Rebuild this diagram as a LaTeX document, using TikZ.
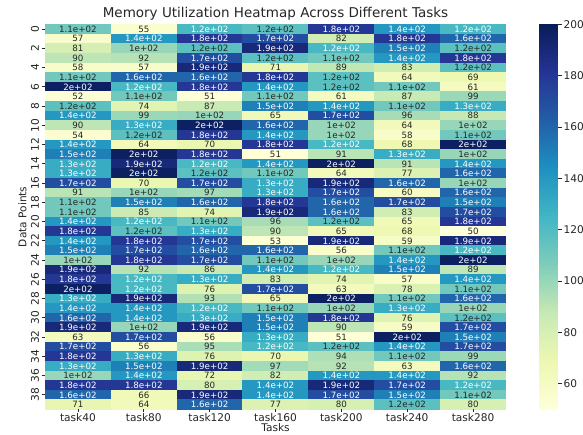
\documentclass[tikz,border=0pt]{standalone}
\usepackage{fontspec}
\setmainfont{DejaVu Sans}
\definecolor{yg0}{HTML}{FFFFD9}
\definecolor{yg1}{HTML}{EDF8B1}
\definecolor{yg2}{HTML}{C7E9B4}
\definecolor{yg3}{HTML}{7FCDBB}
\definecolor{yg4}{HTML}{41B6C4}
\definecolor{yg5}{HTML}{1D91C0}
\definecolor{yg6}{HTML}{225EA8}
\definecolor{yg7}{HTML}{253494}
\definecolor{yg8}{HTML}{081D58}
\definecolor{txtdark}{HTML}{262626}
\newcommand\hmcolor[1]{%
  \pgfmathsetmacro\hmt{max(0,min(7.9999,((#1)-50)/150*8))}%
  \pgfmathtruncatemacro\hmseg{floor(\hmt)}%
  \pgfmathtruncatemacro\hmsegb{\hmseg+1}%
  \pgfmathtruncatemacro\hmfr{round((\hmt-\hmseg)*100)}%
}
\tikzset{
  annot/.style={font=\fontsize{8.7}{9}\selectfont, inner sep=0pt},
  ticklab/.style={font=\fontsize{10.6}{12}\selectfont, text=txtdark, inner sep=0pt},
  axlab/.style={font=\fontsize{10.6}{12}\selectfont, text=txtdark, inner sep=0pt},
  titlestyle/.style={font=\fontsize{13.5}{15}\selectfont, text=txtdark, inner sep=0pt},
  tickmark/.style={line width=0.8pt, draw=txtdark},
}
\begin{document}
\begin{tikzpicture}[x=1pt,y=-1pt]
\useasboundingbox[fill=white] (0,0) rectangle (583,434);
% heatmap cells
\foreach \rowvals [count=\r from 0] in {
 {110,55,123,117,180,140,123},
 {57,140,180,170,82,180,160},
 {81,100,117,190,123,150,117},
 {90,92,170,117,110,140,180},
 {58,57,190,71,89,83,117},
 {110,160,160,180,117,64,69},
 {197,123,180,140,117,110,61},
 {52,110,51,110,61,87,99},
 {117,74,87,150,140,110,130},
 {140,99,100,65,170,96,88},
 {90,130,197,160,100,64,100},
 {54,117,180,140,100,58,110},
 {140,64,70,180,123,68,197},
 {150,197,180,51,91,130,100},
 {130,190,123,140,197,91,140},
 {130,197,117,110,64,77,160},
 {170,70,170,130,190,160,100},
 {91,100,97,130,170,60,160},
 {110,150,160,180,160,170,150},
 {110,85,74,190,160,83,170},
 {140,123,110,96,117,65,180},
 {180,117,130,90,65,68,50},
 {140,180,170,53,190,59,190},
 {150,170,160,160,56,110,123},
 {100,180,170,110,100,140,197},
 {190,92,86,140,123,150,89},
 {180,123,130,83,74,57,140},
 {197,123,76,170,63,78,110},
 {130,190,93,65,197,110,160},
 {140,140,123,110,100,130,100},
 {160,140,130,150,180,76,117},
 {190,100,190,150,90,59,170},
 {63,170,56,130,51,197,150},
 {170,56,95,123,117,140,170},
 {180,130,76,70,94,110,99},
 {130,150,190,97,92,63,160},
 {100,140,72,82,140,140,92},
 {180,180,80,140,190,170,123},
 {160,66,190,140,170,150,110},
 {71,64,160,77,80,117,80}} {
  \foreach \v [count=\c from 0] in \rowvals {
    \hmcolor{\v}
    \pgfmathsetmacro\xa{45+\c*65.857}
    \pgfmathsetmacro\ya{24.3+\r*9.625}
    \pgfmathsetmacro\xc{\xa+32.93}
    \pgfmathsetmacro\yc{\ya+4.81}
    \fill[yg\hmsegb!\hmfr!yg\hmseg] (\xa-0.2,\ya-0.2) rectangle ++(66.26,10.03);
    \ifnum\v<100 \edef\lab{\v}\else
      \pgfmathtruncatemacro\rr{round(\v/10)}%
      \ifnum\rr=10 \def\lab{1e+02}\else
        \ifnum\rr=20 \def\lab{2e+02}\else
          \pgfmathtruncatemacro\dd{\rr-10}\edef\lab{1.\dd e+02}%
        \fi
      \fi
    \fi
    \ifnum\v>121 \def\tc{white}\else\def\tc{txtdark}\fi
    \node[annot, text=\tc] (cell-\r-\c) at (\xc,\yc) {\lab};
  }
}
% y ticks
\foreach \r in {0,2,...,38} {
  \pgfmathsetmacro\yy{24.3+(\r+0.5)*9.625}
  \draw[tickmark] (41.5,\yy) -- (45,\yy);
  \node[ticklab, rotate=90] (ylab-\r) at (35,\yy) {\r};
}
% x ticks
\foreach \name [count=\c from 0] in {task40,task80,task120,task160,task200,task240,task280} {
  \pgfmathsetmacro\xx{45+(\c+0.5)*65.857}
  \draw[tickmark] (\xx,409.3) -- (\xx,412.3);
  \node[ticklab, anchor=north] (xlab-\c) at (\xx,413.0) {\name};
}
% colorbar
\foreach \k in {0,...,299} {
  \pgfmathsetmacro\vv{50+\k*0.5+0.25}
  \hmcolor{\vv}
  \pgfmathsetmacro\yb{409.3-\k*0.5*2.5667}
  \fill[yg\hmsegb!\hmfr!yg\hmseg] (539,\yb+0.3) rectangle (558.3,\yb-1.6);
}
\fill[white] (535,0) rectangle (562,24.3);
\foreach \tv in {60,80,...,200} {
  \pgfmathsetmacro\yy{409.3-(\tv-50)*2.5667}
  \draw[tickmark] (558.3,\yy) -- (561.8,\yy);
  \node[ticklab, anchor=west] (cb-\tv) at (563.5,\yy) {\tv};
}
% titles
\node[titlestyle] (title) at (275.5,14) {Memory Utilization Heatmap Across Different Tasks};
\node[axlab, rotate=90] (ylabel) at (22.5,216.8) {Data Points};
\node[axlab, anchor=south] (xlabel) at (275.5,432.3) {Tasks};
\end{tikzpicture}
\end{document}
